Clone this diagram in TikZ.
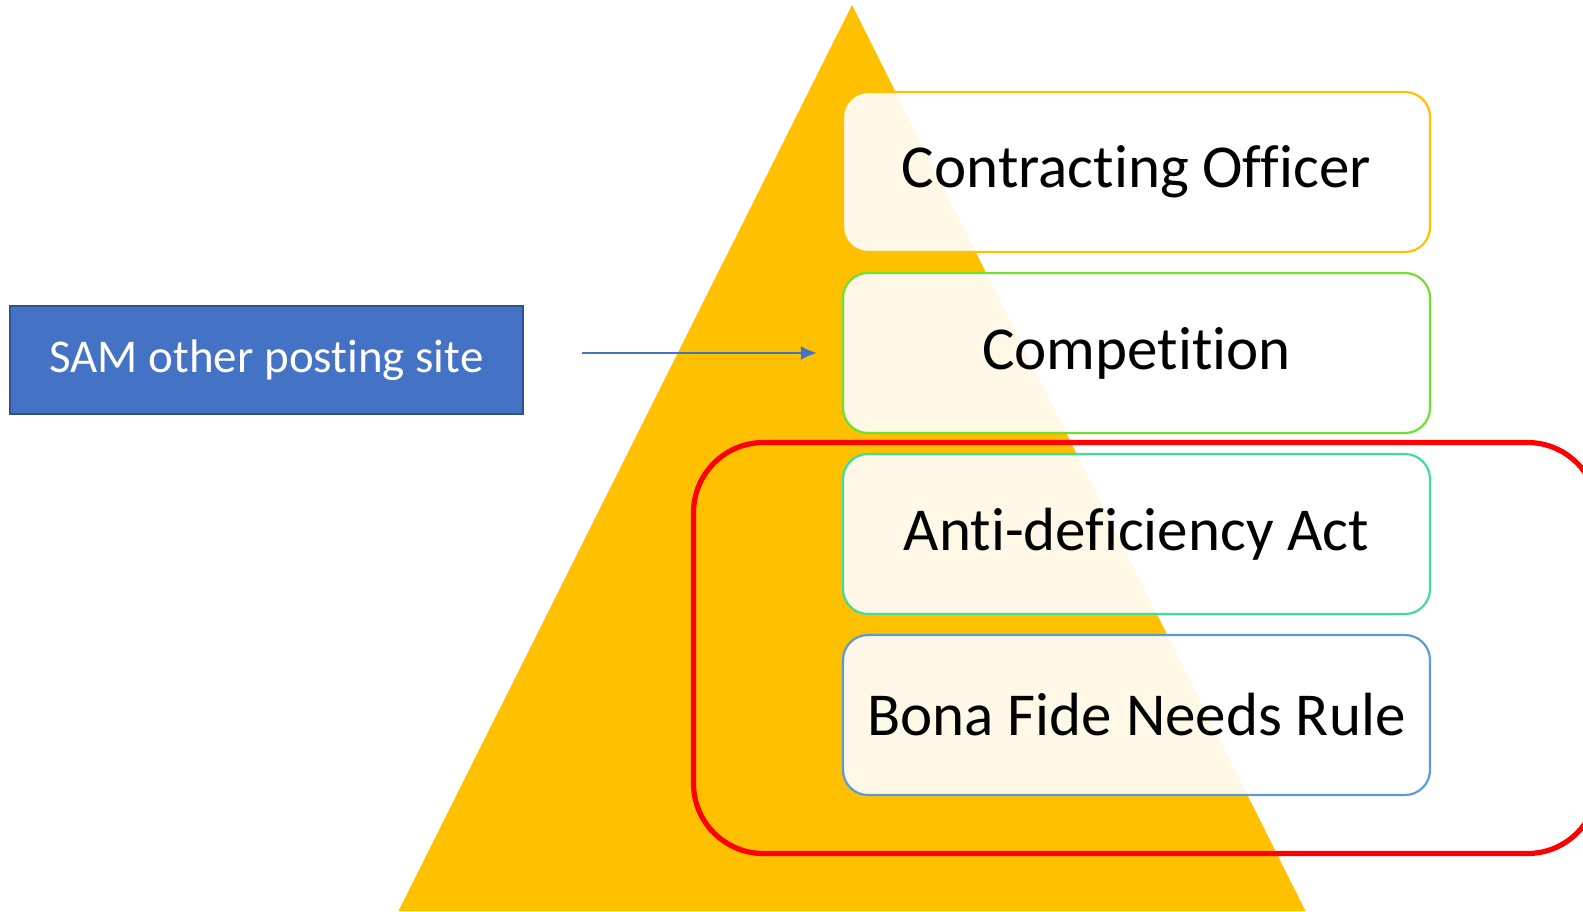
\documentclass[tikz,border=0pt]{standalone}
\usepackage{fontspec}
\setmainfont{Carlito}[Ligatures=NoCommon]
\usetikzlibrary{arrows.meta}
\definecolor{pyr}{HTML}{FFC000}
\definecolor{samfill}{HTML}{4472C4}
\definecolor{samedge}{HTML}{2F528F}
\definecolor{cOfficer}{HTML}{FFC000}
\definecolor{cComp}{HTML}{6EE030}
\definecolor{cAnti}{HTML}{40DC9A}
\definecolor{cBona}{HTML}{5B9BD5}
\definecolor{grp}{HTML}{FF0000}
\begin{document}
\begin{tikzpicture}[x=0.5pt,y=-0.5pt,
  layerbox/.style={draw, line width=1.1pt, rounded corners=12.5pt, fill=white, fill opacity=0.9, text opacity=1,
    minimum width=293.5pt, minimum height=80pt, inner sep=0pt, font=\fontsize{30.5}{36}\selectfont},
  sambox/.style={draw=samedge, line width=1.1pt, fill=samfill, text=white, minimum width=256.5pt, minimum height=54pt,
    inner sep=0pt, font=\fontsize{23.5}{28}\selectfont},
  grpbox/.style={draw=grp, line width=2.6pt, rounded corners=35pt, minimum width=452pt, minimum height=205.5pt, inner sep=0pt},
  link/.style={draw=samfill, line width=1.1pt, -{Latex[length=8pt,width=7pt]}}]
\useasboundingbox (0,0) rectangle (1583,911);
\clip (0,0) rectangle (1583,911);
\fill[pyr] (852,5) -- (398.5,911) -- (1305.5,911) -- cycle;
\node[layerbox, draw=cOfficer] (officer) at (1136.5,172) {Contracting Officer};
\node[layerbox, draw=cComp] (comp) at (1136.5,353) {Competition};
\node[layerbox, draw=cAnti] (anti) at (1136.5,534) {Anti-deficiency Act};
\node[layerbox, draw=cBona] (bona) at (1136.5,715) {Bona Fide Needs Rule};
\node[grpbox] (grp) at (1145.5,648) {};
\node[sambox] (sam) at (266.5,360) {SAM other posting site};
\draw[link, shorten <=29pt, shorten >=12.5pt] (sam.east |- comp.west) -- (comp.west);
\end{tikzpicture}
\end{document}
